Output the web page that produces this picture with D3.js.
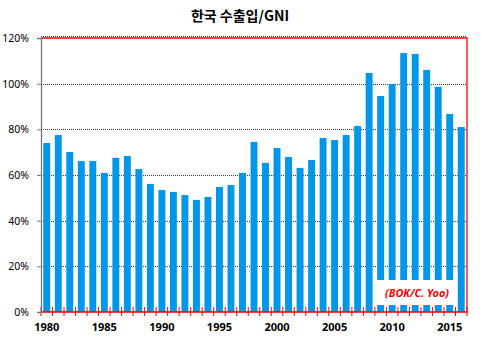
<!DOCTYPE html>
<html>
<head>
<meta charset="utf-8">
<script src="https://cdn.jsdelivr.net/npm/d3@7"></script>
<style>
  html, body { margin: 0; padding: 0; background: #fff; }
  svg { display: block; }
</style>
</head>
<body>
<svg id="chart" width="482" height="338"></svg>
<script>
// Korea: trade (exports + imports) as a share of GNI, 1980–2016
const years = d3.range(1980, 2017);
const tradeToGni = [
  74.0, 77.5, 70.1, 66.1, 66.1, 60.9, 67.5, 68.3, 62.6, 56.1,
  53.4, 52.6, 51.2, 49.1, 50.4, 54.8, 55.6, 60.9, 74.5, 65.3,
  71.8, 67.9, 63.1, 66.6, 76.2, 75.3, 77.5, 81.5, 104.7, 94.6,
  99.9, 113.4, 113.0, 106.0, 98.6, 86.7, 81.0
];
const yTicks = [0, 20, 40, 60, 80, 100, 120];
const xLabelYears = [1980, 1985, 1990, 1995, 2000, 2005, 2010, 2015];
const title = "한국 수출입/GNI";
const sourceNote = "(BOK/C. Yoo)";

const svg = d3.select("#chart");
const plotLeft = 41, plotRight = 467, plotTop = 38, plotBottom = 312;

const x = d3.scaleBand()
  .domain(years)
  .range([plotLeft, plotRight])
  .paddingInner(0.4)
  .paddingOuter(0.2);

const y = d3.scaleLinear().domain([0, 120]).range([plotBottom, plotTop]);

// title
svg.append("text")
  .attr("x", 240).attr("y", 21)
  .attr("text-anchor", "middle")
  .attr("font-family", "'Noto Sans CJK KR', 'Noto Sans', sans-serif")
  .attr("font-weight", "bold")
  .attr("font-size", 14)
  .attr("fill", "#000")
  .text(title);

// dotted gridlines
svg.append("g")
  .selectAll("line")
  .data(yTicks.filter(d => d > 0))
  .join("line")
  .attr("x1", plotLeft).attr("x2", plotRight)
  .attr("y1", d => Math.round(y(d)) + (d === 120 ? -1.5 : 0.5))
  .attr("y2", d => Math.round(y(d)) + (d === 120 ? -1.5 : 0.5))
  .attr("stroke", "#404040")
  .attr("stroke-width", 1)
  .attr("stroke-dasharray", "1,1");

// bars
svg.append("g")
  .selectAll("rect")
  .data(years.map((yr, i) => ({ yr, v: tradeToGni[i] })))
  .join("rect")
  .attr("x", d => x(d.yr))
  .attr("width", x.bandwidth())
  .attr("y", d => y(d.v))
  .attr("height", d => y(0) - y(d.v))
  .attr("fill", "#0096ea");

// red plot frame: top, right, bottom
svg.append("path")
  .attr("d", `M${plotLeft},${y(120)}H${plotRight}V${y(0)}H${plotLeft}`)
  .attr("fill", "none")
  .attr("stroke", "#ff0000")
  .attr("stroke-width", 1.3);

// red category ticks crossing the baseline
const step = x.step();
svg.append("g")
  .selectAll("line")
  .data(d3.range(years.length + 1))
  .join("line")
  .attr("x1", i => plotLeft + i * step)
  .attr("x2", i => plotLeft + i * step)
  .attr("y1", y(0) - 5)
  .attr("y2", y(0) + 4)
  .attr("stroke", "#ff0000")
  .attr("stroke-width", 1);

// y axis
const yAxis = svg.append("g")
  .attr("transform", `translate(${plotLeft},0)`)
  .call(d3.axisLeft(y).tickValues(yTicks).tickSize(4).tickPadding(8).tickFormat(d => d + "%"));
yAxis.select(".domain").attr("stroke", "#777").attr("stroke-width", 1.3);
yAxis.selectAll(".tick line").attr("stroke", "#777");
yAxis.selectAll(".tick text")
  .attr("font-family", "'Noto Sans', sans-serif")
  .attr("font-size", 10.5)
  .attr("fill", "#000");

// x labels
svg.append("g")
  .selectAll("text")
  .data(xLabelYears)
  .join("text")
  .attr("x", d => x(d) + x.bandwidth() / 2)
  .attr("y", 331)
  .attr("text-anchor", "middle")
  .attr("font-family", "'Noto Sans', sans-serif")
  .attr("font-weight", "bold")
  .attr("font-size", 11)
  .attr("fill", "#000")
  .text(d => d);

// source note on a white panel over the late bars
svg.append("rect")
  .attr("x", 375).attr("y", 280)
  .attr("width", 81).attr("height", 25)
  .attr("fill", "#fff");
svg.append("text")
  .attr("x", 417).attr("y", 297)
  .attr("text-anchor", "middle")
  .attr("font-family", "'Noto Sans', sans-serif")
  .attr("font-weight", "bold")
  .attr("font-style", "italic")
  .attr("font-size", 10.8)
  .attr("fill", "#ff0000")
  .text(sourceNote);
</script>
</body>
</html>
